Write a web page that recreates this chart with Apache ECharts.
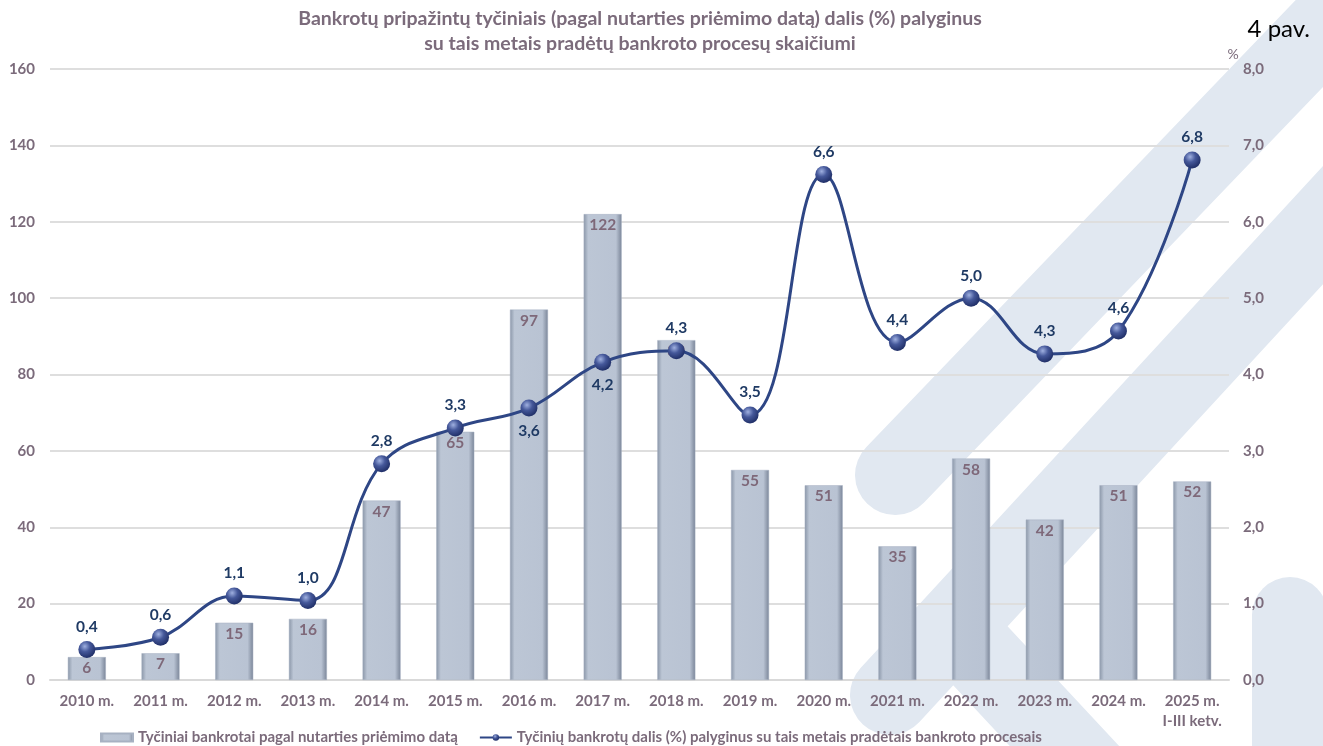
<!DOCTYPE html>
<html>
<head>
<meta charset="utf-8">
<script src="https://cdn.jsdelivr.net/npm/echarts@6/dist/echarts.min.js"></script>
<style>
  html, body { margin: 0; padding: 0; background: #fff; }
  #chart { width: 1323px; height: 746px; }
</style>
</head>
<body>
<div id="chart"></div>
<script>
// categories and values
var years = ["2010 m.", "2011 m.", "2012 m.", "2013 m.", "2014 m.", "2015 m.", "2016 m.", "2017 m.",
  "2018 m.", "2019 m.", "2020 m.", "2021 m.", "2022 m.", "2023 m.", "2024 m.", "2025 m.\nI-III ketv."];
var intentional = [6, 7, 15, 16, 47, 65, 97, 122, 89, 55, 51, 35, 58, 42, 51, 52];
var sharePct = [0.4, 0.56, 1.1, 1.04, 2.83, 3.3, 3.56, 4.16, 4.31, 3.47, 6.62, 4.42, 5.0, 4.27, 4.57, 6.81];
var labelBelow = [6, 7]; // 2016, 2017 labels sit under the point

var textColor = "#7b6b7b";
var font = "Lato, 'Open Sans', sans-serif";

function comma(v) {
  return v.toFixed(1).replace(".", ",");
}

var barColor = {
  type: "linear", x: 0, y: 0, x2: 1, y2: 0,
  colorStops: [
    { offset: 0, color: "#8a96a8" },
    { offset: 0.12, color: "#bcc6d5" },
    { offset: 0.85, color: "#b9c3d3" },
    { offset: 1, color: "#7a8598" }
  ]
};
var ballColor = {
  type: "radial", x: 0.38, y: 0.32, r: 0.7,
  colorStops: [
    { offset: 0, color: "#9fb0e0" },
    { offset: 0.45, color: "#45589a" },
    { offset: 1, color: "#1f2e66" }
  ]
};

// light watermark stripes behind the plot
var bgColor = "#e1e8f1";
function band(x1, y1, x2, y2, w) {
  return {
    type: "polyline", z: -10, silent: true,
    shape: { points: [[x1, y1], [x2, y2]] },
    style: { stroke: bgColor, lineWidth: w, lineCap: "round", fill: null }
  };
}

var myChart = echarts.init(document.getElementById("chart"));
var option = {
  animation: false,
  textStyle: { fontFamily: font },
  graphic: [
    band(895, 475, 1380, -30, 80),
    band(890, 695, 1360, 185, 80),
    band(975, 650, 1180, 870, 80),
    band(1290, 615, 1290, 900, 76),
    {
      type: "text", x: 640, y: 6, z: 10,
      style: {
        text: "Bankrotų pripažintų tyčiniais (pagal nutarties priėmimo datą) dalis (%) palyginus\nsu tais metais pradėtų bankroto procesų skaičiumi",
        align: "center", fill: textColor, font: "bold 19.5px " + font, lineHeight: 25
      }
    },
    {
      type: "text", x: 1310, y: 17, z: 10,
      style: { text: "4 pav.", align: "right", fill: "#000", font: "24px " + font }
    }
  ],
  grid: { left: 50, right: 94, top: 69, bottom: 66 },
  legend: {
    left: 95, top: 725, itemGap: 21, itemWidth: 32, itemHeight: 8,
    textStyle: { color: textColor, fontWeight: "bold", fontSize: 15 },
    data: [
      { name: "Tyčiniai bankrotai pagal nutarties priėmimo datą", icon: "rect" },
      { name: "Tyčinių bankrotų dalis (%) palyginus su tais metais pradėtais bankroto procesais" }
    ]
  },
  xAxis: {
    type: "category",
    data: years,
    axisTick: { show: false },
    axisLine: { lineStyle: { color: "#d9d9d9", width: 2 } },
    axisLabel: { color: textColor, fontWeight: "bold", fontSize: 15, margin: 11, lineHeight: 20, interval: 0 }
  },
  yAxis: [
    {
      type: "value", min: 0, max: 160, interval: 20,
      axisLabel: { color: textColor, fontWeight: "bold", fontSize: 15, margin: 15 },
      splitLine: { lineStyle: { color: "#dedede", width: 2 } }
    },
    {
      type: "value", min: 0, max: 8, interval: 1, position: "right",
      name: "%", nameGap: 6,
      nameTextStyle: { color: textColor, fontSize: 14, align: "center", padding: [0, 0, 0, 8] },
      axisLabel: { color: textColor, fontWeight: "bold", fontSize: 15, margin: 14, formatter: comma },
      splitLine: { show: false }
    }
  ],
  series: [
    {
      name: "Tyčiniai bankrotai pagal nutarties priėmimo datą",
      type: "bar",
      barWidth: 38,
      data: intentional,
      itemStyle: { color: barColor, borderColor: "#a7b1c2", borderWidth: 0.5 },
      label: {
        show: true, position: "insideTop", distance: 3,
        color: "#7e6879", fontWeight: "bold", fontSize: 15.5
      }
    },
    {
      name: "Tyčinių bankrotų dalis (%) palyginus su tais metais pradėtais bankroto procesais",
      type: "line",
      yAxisIndex: 1,
      smooth: 0.4,
      symbol: "circle",
      symbolSize: 17,
      data: sharePct.map(function (v, i) {
        var d = { value: v };
        if (labelBelow.indexOf(i) >= 0) d.label = { position: "bottom", distance: 6 };
        return d;
      }),
      lineStyle: { color: "#2e4685", width: 3 },
      itemStyle: { color: ballColor, borderWidth: 0 },
      label: {
        show: true, position: "top", distance: 6,
        color: "#1f3a64", fontWeight: "bold", fontSize: 15.5,
        formatter: function (p) { return comma(p.value); }
      },
      z: 5
    }
  ]
};
myChart.setOption(option);
</script>
</body>
</html>
